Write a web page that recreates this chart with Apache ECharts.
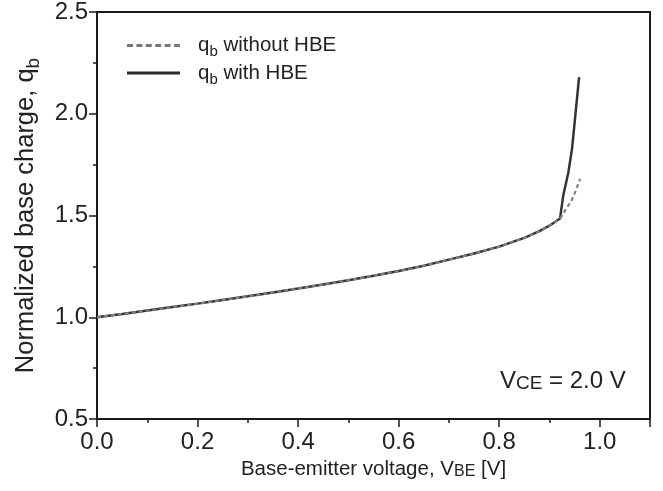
<!DOCTYPE html>
<html><head><meta charset="utf-8">
<script src="https://cdn.jsdelivr.net/npm/echarts@6/dist/echarts.min.js"></script>
<style>html,body{margin:0;padding:0;background:#fff}#c{width:663px;height:491px}</style>
</head><body><div id="c"></div>
<script>
// Shared base curve (both series coincide up to the knee)
const vbeBase = [0, 0.05, 0.1, 0.15, 0.2, 0.25, 0.3, 0.35, 0.4, 0.45, 0.5, 0.55, 0.6, 0.65, 0.7, 0.75, 0.8, 0.85, 0.88, 0.9, 0.921];
const qbBase  = [1.0, 1.016, 1.033, 1.05, 1.067, 1.085, 1.103, 1.122, 1.141, 1.161, 1.182, 1.204, 1.227, 1.253, 1.283, 1.313, 1.347, 1.39, 1.423, 1.45, 1.485];
// Tail with HBE
const vbeHBE = [0.9275, 0.9375, 0.945, 0.953, 0.959];
const qbHBE  = [1.60, 1.71, 1.83, 2.03, 2.18];
// Tail without HBE
const vbeNoHBE = [0.93, 0.944, 0.952, 0.961];
const qbNoHBE  = [1.52, 1.574, 1.62, 1.68];
const xTicks = [0, 0.2, 0.4, 0.6, 0.8, 1.0];
const yTicks = [0.5, 1.0, 1.5, 2.0, 2.5];

const withData = vbeBase.map((v,i)=>[v,qbBase[i]]).concat(vbeHBE.map((v,i)=>[v,qbHBE[i]]));
const withoutData = vbeBase.map((v,i)=>[v,qbBase[i]]).concat(vbeNoHBE.map((v,i)=>[v,qbNoHBE[i]]));

const FONT = 'Liberation Sans, Arial, sans-serif';
const chart = echarts.init(document.getElementById('c'), null, {renderer:'canvas'});
const axisCol = '#1a1a1a';
const dashIcon = 'path://M0,0H6V3H0Z M9.5,0H15.5V3H9.5Z M19,0H25V3H19Z M28.5,0H34.5V3H28.5Z M38,0H44V3H38Z M47.5,0H53.5V3H47.5Z';
const solidIcon = 'path://M0,0H53.5V3H0Z';
chart.setOption({
  animation: false,
  backgroundColor: '#fff',
  textStyle: {fontFamily: FONT},
  grid: {left: 97, right: 13, top: 11, bottom: 72, show: true, borderColor: axisCol, borderWidth: 2, backgroundColor: 'transparent'},
  legend: {
    left: 122, top: 30, orient: 'vertical', itemWidth: 53, itemHeight: 3, itemGap: 3,
    data: [{name: 'without', icon: dashIcon, itemStyle: {color: '#777'}},
           {name: 'with', icon: solidIcon, itemStyle: {color: '#2a2a2a'}}],
    formatter: n => n === 'without' ? '{q|q}{s|b}{t| without HBE}' : '{q|q}{s|b}{t| with HBE}',
    textStyle: {
      fontFamily: FONT, color: '#222',
      rich: {
        q: {fontSize: 20.5, fontFamily: FONT, color: '#222', padding: [0,0,0,13], lineHeight: 22},
        s: {fontSize: 15, fontFamily: FONT, color: '#222', verticalAlign: 'bottom', padding: [0,0,-3,0], lineHeight: 22},
        t: {fontSize: 20.5, fontFamily: FONT, color: '#222', lineHeight: 22}
      }
    }
  },
  xAxis: {
    type: 'value', min: 0, max: 1.1, interval: 0.2,
    axisLine: {show: true, onZero: false, lineStyle: {color: axisCol, width: 2}},
    axisTick: {show: true, length: 8, lineStyle: {color: axisCol, width: 1.5}},
    minorTick: {show: true, splitNumber: 2, length: 4, lineStyle: {color: axisCol, width: 1.5}},
    splitLine: {show: false},
    axisLabel: {fontSize: 24, color: '#222', fontFamily: FONT, margin: 11,
      formatter: v => xTicks.some(t => Math.abs(t - v) < 1e-9) ? v.toFixed(1) : ''},
    name: '{a|Base-emitter voltage, V}{b|BE}{a| [V]}',
    nameLocation: 'middle', nameGap: 38,
    nameTextStyle: {rich: {
      a: {fontSize: 20.5, fontFamily: FONT, color: '#222'},
      b: {fontSize: 16, fontFamily: FONT, color: '#222', verticalAlign: 'bottom'}
    }}
  },
  yAxis: {
    type: 'value', min: 0.5, max: 2.5, interval: 0.5,
    axisLine: {show: true, onZero: false, lineStyle: {color: axisCol, width: 2}},
    axisTick: {show: true, length: 8, lineStyle: {color: axisCol, width: 1.5}},
    minorTick: {show: true, splitNumber: 2, length: 4, lineStyle: {color: axisCol, width: 1.5}},
    splitLine: {show: false},
    axisLabel: {fontSize: 24, color: '#222', fontFamily: FONT, margin: 9,
      formatter: v => yTicks.some(t => Math.abs(t - v) < 1e-9) ? v.toFixed(1) : ''},
    name: '{a|Normalized base charge, q}{b|b}',
    nameLocation: 'middle', nameGap: 58, nameRotate: 90,
    nameTextStyle: {rich: {
      a: {fontSize: 25.5, fontFamily: FONT, color: '#222'},
      b: {fontSize: 19, fontFamily: FONT, color: '#222', verticalAlign: 'bottom', padding: [0,0,-4,0]}
    }}
  },
  series: [
    {name: 'with', type: 'line', data: withData, showSymbol: false, symbol: 'none', smooth: false,
     lineStyle: {color: '#333', width: 2.5, type: 'solid'}, itemStyle: {color: '#333'}, z: 2},
    {name: 'without', type: 'line', data: withoutData, showSymbol: false, symbol: 'none', smooth: false,
     lineStyle: {color: '#808080', width: 2.2, type: [4, 3]}, itemStyle: {color: '#808080'}, z: 3}
  ],
  graphic: [{
    type: 'text', left: 500, top: 369,
    style: {
      text: '{a|V}{b|CE}{a| = 2.0 V}',
      rich: {
        a: {fontSize: 24, fontFamily: FONT, fill: '#222'},
        b: {fontSize: 19, fontFamily: FONT, fill: '#222', verticalAlign: 'bottom'}
      }
    }
  }]
});
</script></body></html>
